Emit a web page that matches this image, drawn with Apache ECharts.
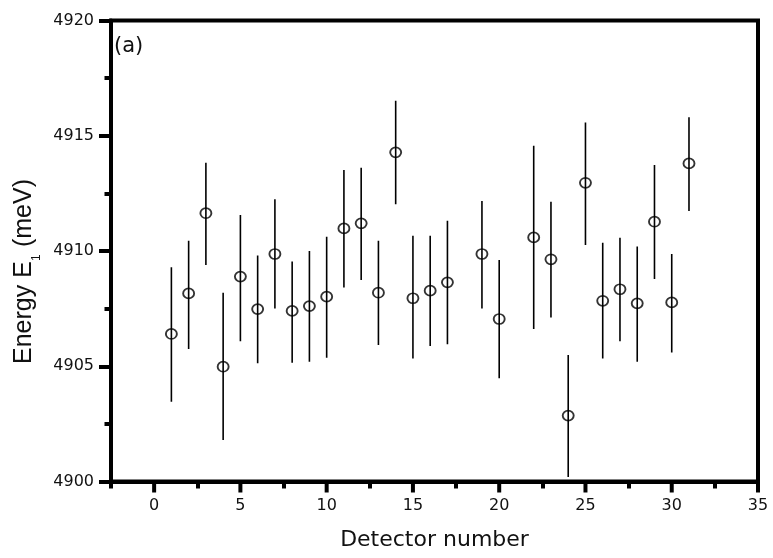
<!DOCTYPE html>
<html>
<head>
<meta charset="utf-8">
<script src="https://cdn.jsdelivr.net/npm/echarts@6/dist/echarts.min.js"></script>
<style>
  html, body { margin: 0; padding: 0; background: #fff; }
  #chart { width: 773px; height: 558px; }
</style>
</head>
<body>
<div id="chart"></div>
<script>
// Detector numbers (18 and 21 absent in the reference)
const detectors = [1,2,3,4,5,6,7,8,9,10,11,12,13,14,15,16,17,19,20,22,23,24,25,26,27,28,29,30,31];
// Energy E1 (meV), central values
const energy = [4906.40,4908.16,4911.64,4904.98,4908.89,4907.48,4909.87,4907.40,4907.61,4908.02,4910.98,4911.20,4908.19,4914.28,4907.95,4908.28,4908.64,4909.87,4907.05,4910.59,4909.64,4902.86,4912.96,4907.84,4908.34,4907.73,4911.27,4907.77,4913.80];
// Error bar upper ends
const upper = [4909.29,4910.45,4913.83,4908.19,4911.56,4909.80,4912.24,4909.54,4910.00,4910.62,4913.51,4913.61,4910.45,4916.52,4910.66,4910.66,4911.31,4912.17,4909.61,4914.57,4912.14,4905.49,4915.58,4910.36,4910.58,4910.19,4913.73,4909.87,4915.80];
// Error bar lower ends
const lower = [4903.46,4905.75,4909.39,4901.80,4906.09,4905.13,4907.51,4905.15,4905.20,4905.37,4908.42,4908.74,4905.92,4912.03,4905.34,4905.88,4905.95,4907.51,4904.48,4906.62,4907.12,4900.20,4910.26,4905.34,4906.09,4905.20,4908.79,4905.60,4911.74];
// Tick labels
const xMajorTicks = [0,5,10,15,20,25,30,35];
const xMinorTicks = [-2.5,2.5,7.5,12.5,17.5,22.5,27.5,32.5];
const yTicks = [4900,4905,4910,4915,4920];

const xTitle = 'Detector number';
const panelLabel = '(a)';

const tickFont = 'DejaVu Sans';
const chart = echarts.init(document.getElementById('chart'), null, { renderer: 'canvas' });

const pointData = detectors.map((d, i) => [d, energy[i]]);
const barData = detectors.map((d, i) => [d, lower[i], upper[i]]);

const baseGraphic = [
  {
    id: 'panel', type: 'text', left: 114, top: 36,
    style: { text: panelLabel, fontFamily: 'DejaVu Sans', fontSize: 21, fill: '#111' }
  },
  {
    id: 'ytitle', type: 'group', x: 32, y: 364, rotation: Math.PI / 2,
    children: [
      { type: 'text', x: 0, y: -8, style: { text: 'Energy E', fontFamily: 'Liberation Sans', fontSize: 25, fill: '#111', textAlign: 'left', textVerticalAlign: 'middle' } },
      { type: 'text', x: 103, y: 5, style: { text: '1', fontFamily: 'Liberation Sans', fontSize: 12, fill: '#111', textAlign: 'left', textVerticalAlign: 'middle' } },
      { type: 'text', x: 110, y: -8, style: { text: ' (meV)', fontFamily: 'Liberation Sans', fontSize: 25, fill: '#111', textAlign: 'left', textVerticalAlign: 'middle' } }
    ]
  }
];

const option = {
  animation: false,
  backgroundColor: '#ffffff',
  grid: {
    left: 111, right: 15, top: 20.5, bottom: 76.5,
    show: true, borderColor: '#000', borderWidth: 4, backgroundColor: 'transparent'
  },
  xAxis: {
    type: 'value', min: -2.5, max: 35, interval: 2.5, position: 'bottom',
    name: xTitle, nameLocation: 'middle', nameGap: 48,
    nameTextStyle: { fontFamily: 'DejaVu Sans', fontSize: 22, color: '#111' },
    axisLine: { show: true, onZero: false, lineStyle: { color: '#000', width: 4 } },
    axisTick: { show: true, length: 7, lineStyle: { color: '#000', width: 4 }, customValues: xMinorTicks },
    axisLabel: { show: true, margin: 16, fontFamily: tickFont, fontSize: 16, color: '#111',
      customValues: xMajorTicks, formatter: v => String(v) },
    splitLine: { show: false }
  },
  yAxis: {
    type: 'value', min: yTicks[0], max: yTicks[yTicks.length - 1], interval: 5,
    axisLine: { show: true, onZero: false, lineStyle: { color: '#000', width: 4 } },
    axisTick: { show: true, length: 12, lineStyle: { color: '#000', width: 4 } },
    minorTick: { show: true, splitNumber: 2, length: 6.5, lineStyle: { color: '#000', width: 4 } },
    axisLabel: { margin: 17, fontFamily: tickFont, fontSize: 16, color: '#111', formatter: v => String(v) },
    splitLine: { show: false }
  },
  graphic: baseGraphic,
  series: [
    {
      type: 'custom', name: 'error', clip: true,
      encode: { x: 0, y: [1, 2] },
      data: barData,
      renderItem: function (params, api) {
        const x = api.value(0);
        const p1 = api.coord([x, api.value(1)]);
        const p2 = api.coord([x, api.value(2)]);
        return { type: 'line', shape: { x1: p1[0], y1: p1[1], x2: p2[0], y2: p2[1] },
          style: { stroke: '#000', lineWidth: 1.6 } };
      },
      z: 2
    },
    {
      type: 'scatter', name: 'energy',
      data: pointData,
      symbol: 'circle', symbolSize: [11, 10],
      itemStyle: { color: 'rgba(0,0,0,0)', borderColor: '#000', borderWidth: 1.8 },
      z: 3
    }
  ]
};
chart.setOption(option);

// Longer major ticks of the x axis, positioned through the axis scale
const majorTickGraphics = xMajorTicks.map((v, i) => {
  const p = chart.convertToPixel({ gridIndex: 0 }, [v, yTicks[0]]);
  return { id: 'xmaj' + i, type: 'rect', z: 10,
    shape: { x: p[0] - 2, y: p[1], width: 4, height: 11 }, style: { fill: '#000' } };
});
chart.setOption({ graphic: baseGraphic.concat(majorTickGraphics) });
</script>
</body>
</html>
